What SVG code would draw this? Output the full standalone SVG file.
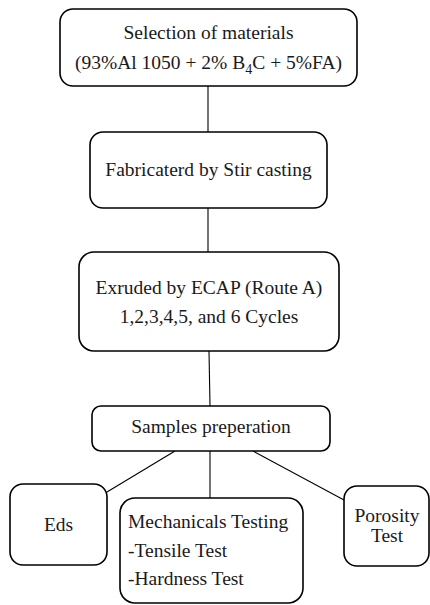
<svg xmlns="http://www.w3.org/2000/svg" width="430" height="605" viewBox="0 0 430 605">
<style>
.box{fill:#fff;stroke:#000;stroke-width:1.6}
.t{font-family:"Liberation Serif","Times New Roman",serif;font-size:19.5px;fill:#1a1a1a}
.c{stroke:#000;stroke-width:1.1;fill:none}
</style>
<rect width="430" height="605" fill="#fff"/>
<g id="connectors">
<line class="c" x1="208" y1="86" x2="208" y2="132"/>
<line class="c" x1="208" y1="208" x2="208" y2="252"/>
<line class="c" x1="209" y1="351" x2="210" y2="406"/>
<line class="c" x1="175" y1="451" x2="107" y2="492"/>
<line class="c" x1="210" y1="451" x2="210" y2="498"/>
<line class="c" x1="253" y1="451" x2="344" y2="500"/>
</g>
<g id="n1">
<rect class="box" x="60" y="9" width="297" height="77" rx="13"/>
<text class="t" x="208.5" y="39" text-anchor="middle">Selection  of materials</text>
<text class="t" x="208.5" y="69" text-anchor="middle">(93%Al 1050 + 2% B<tspan font-size="14" dy="5">4</tspan><tspan dy="-5">C + 5%FA)</tspan></text>
</g>
<g id="n2">
<rect class="box" x="90" y="132" width="237" height="76" rx="13"/>
<text class="t" x="208.5" y="176" text-anchor="middle">Fabricaterd by Stir casting</text>
</g>
<g id="n3">
<rect class="box" x="79" y="252" width="260" height="99" rx="15"/>
<text class="t" x="209" y="294" text-anchor="middle">Exruded by ECAP (Route A)</text>
<text class="t" x="209" y="323" text-anchor="middle">1,2,3,4,5, and 6 Cycles</text>
</g>
<g id="n4">
<rect class="box" x="92" y="406" width="238" height="45" rx="9"/>
<text class="t" x="211" y="433" text-anchor="middle">Samples  preperation</text>
</g>
<g id="n5">
<rect class="box" x="10" y="484" width="97" height="81" rx="13"/>
<text class="t" x="58.5" y="531" text-anchor="middle">Eds</text>
</g>
<g id="n6">
<rect class="box" x="120" y="498" width="183" height="105" rx="15"/>
<text class="t" x="128" y="528">Mechanicals Testing</text>
<text class="t" x="128" y="557">-Tensile Test</text>
<text class="t" x="128" y="585">-Hardness Test</text>
</g>
<g id="n7">
<rect class="box" x="344" y="486" width="85" height="80" rx="13"/>
<text class="t" x="387" y="522" text-anchor="middle">Porosity</text>
<text class="t" x="387" y="542" text-anchor="middle">Test</text>
</g>
</svg>
